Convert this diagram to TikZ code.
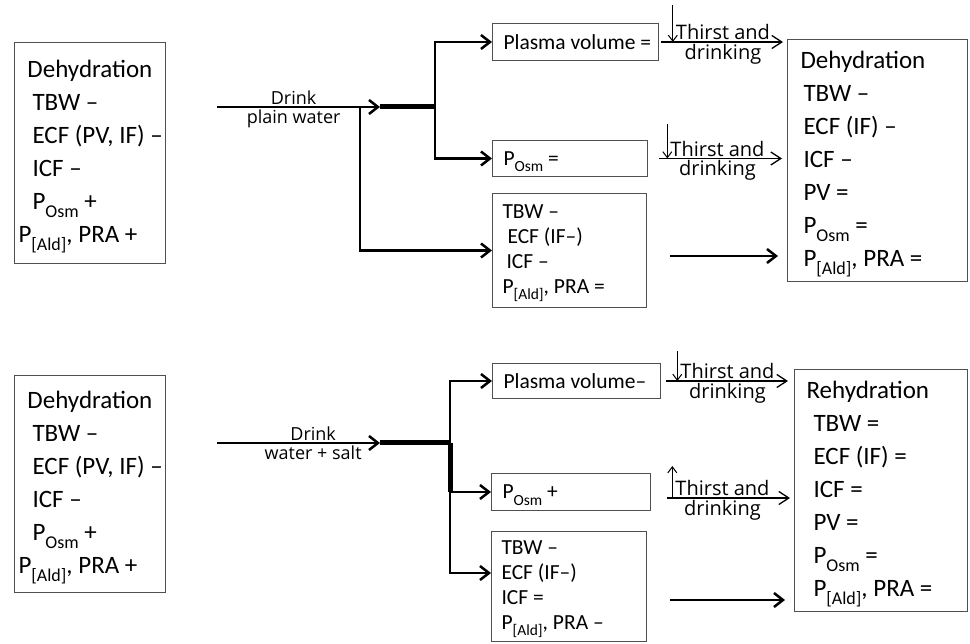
\documentclass[tikz,border=0pt]{standalone}
\usepackage{fontspec}
\setmainfont{Carlito}
\newfontfamily\labfont{Open Sans}
\usetikzlibrary{arrows.meta}

\definecolor{boxgray}{HTML}{505050}
\newcommand{\lowsub}[1]{\raisebox{-0.3em}[0pt][0pt]{\scalebox{0.72}{#1}}}
\newcommand{\nobrk}[1]{\makebox[0pt][l]{#1}}

\tikzset{
  bigbox/.style={draw=boxgray, line width=1pt, anchor=north west, align=flush left,
    inner ysep=0pt, font=\fontsize{25}{33}\selectfont},
  smallbox/.style={draw=boxgray, line width=1pt, anchor=north west, align=flush left,
    inner ysep=0pt, font=\fontsize{21.5}{25}\selectfont},
  labtxt/.style={font=\labfont\fontsize{18}{20}\selectfont, inner sep=1.5pt},
  thtxt/.style={font=\labfont\fontsize{20}{22}\selectfont, inner sep=1.5pt},
  flow/.style={line width=2.5pt, -{Straight Barb[length=9pt,width=14pt]}},
  trunk/.style={line width=5pt},
  thirst/.style={line width=1.3pt, -{Straight Barb[length=10pt,width=13pt]}},
  tick/.style={line width=1pt, -{Straight Barb[length=6pt,width=9pt]}}
}

\begin{document}
\begin{tikzpicture}[x=1pt,y=-1pt]
\useasboundingbox (0,0) rectangle (970,644);

% top row: plain water
\node[bigbox, text width=143pt, inner xsep=4pt, minimum height=221pt] (dh0) at (14,42)
  {\hspace*{9pt}Dehydration\\ \hspace*{14pt}TBW –\\ \hspace*{14pt}\nobrk{ECF (PV, IF) –}\\ \hspace*{14pt}ICF –\\
   \hspace*{14pt}P\lowsub{Osm} +\\ P\lowsub{[Ald]}, PRA +};
\node[smallbox, text width=144pt, inner xsep=11pt, minimum height=37pt] (pv1) at (492,23) {\nobrk{Plasma volume =}};
\node[smallbox, text width=133pt, inner xsep=11pt, minimum height=36pt] (posm1) at (492,140) {P\lowsub{Osm} =};
\node[smallbox, text width=134pt, inner xsep=10pt, minimum height=114pt] (tbw1) at (492,193)
  {TBW –\\ \hspace*{5pt}ECF (IF–)\\ \hspace*{4pt}ICF –\\ P\lowsub{[Ald]}, PRA =};
\node[bigbox, text width=154pt, inner xsep=13pt, minimum height=242pt] (dh1) at (787,39)
  {Dehydration\\ \hspace*{3pt}TBW –\\ \hspace*{3pt}ECF (IF) –\\ \hspace*{3pt}ICF –\\
   \hspace*{3pt}PV =\\ \hspace*{3pt}P\lowsub{Osm} =\\ \hspace*{3pt}P\lowsub{[Ald]}, PRA =};

\coordinate (d0s) at (217,107);
\coordinate (j0) at (380,107);
\coordinate (b0) at (435,107);
\coordinate (s0) at (360,107);
\draw[flow] (d0s) -- node[labtxt, above, pos=0.47] (dr0) {Drink}
  node[labtxt, below, pos=0.47] (pw0) {plain water} (j0);
\draw[trunk] (j0) -- (b0);
\draw[flow] (b0) |- (pv1.west);
\draw[flow] (b0) |- (posm1.west);
\draw[flow] (s0) |- (tbw1.west);

\draw[thirst, shorten <=2pt, shorten >=4pt] (pv1.east) --
  node[thtxt, above] (t1) {Thirst and} node[thtxt, below] (k1) {drinking} (pv1.east -| dh1.west);
\draw[tick] ([xshift=-1pt]t1.south west) ++(0,-37) -- ([xshift=-1pt]t1.south west);
\draw[thirst, shorten <=11pt, shorten >=5pt] (posm1.east) --
  node[thtxt, above] (t2) {Thirst and} node[thtxt, below] (k2) {drinking} (posm1.east -| dh1.west);
\draw[tick] ([xshift=-1pt]t2.south west) ++(0,-34) -- ([xshift=-1pt]t2.south west);

\coordinate (l0) at (670,256);
\draw[flow, shorten >=9pt] (l0) -- (l0 -| dh1.west);

% bottom row: water + salt
\node[bigbox, text width=143pt, inner xsep=4pt, minimum height=217pt] (dh2) at (14,375)
  {\hspace*{9pt}Dehydration\\ \hspace*{14pt}TBW –\\ \hspace*{14pt}\nobrk{ECF (PV, IF) –}\\ \hspace*{14pt}ICF –\\
   \hspace*{14pt}P\lowsub{Osm} +\\ P\lowsub{[Ald]}, PRA +};
\node[smallbox, text width=146pt, inner xsep=11pt, minimum height=35pt] (pv2) at (492,363) {\nobrk{Plasma volume–}};
\node[smallbox, text width=137pt, inner xsep=11pt, minimum height=37pt] (posm2) at (491,473) {P\lowsub{Osm} +};
\node[smallbox, text width=135pt, inner xsep=10pt, minimum height=110pt] (tbw2) at (491,531)
  {TBW –\\ ECF (IF–)\\ ICF =\\ P\lowsub{[Ald]}, PRA –};
\node[bigbox, text width=149pt, inner xsep=12pt, minimum height=242pt] (rh) at (794,369)
  {Rehydration\\ \hspace*{7pt}TBW =\\ \hspace*{7pt}ECF (IF) =\\ \hspace*{7pt}ICF =\\
   \hspace*{7pt}PV =\\ \hspace*{7pt}P\lowsub{Osm} =\\ \hspace*{7pt}P\lowsub{[Ald]}, PRA =};

\coordinate (d1s) at (217,443);
\coordinate (j1) at (380,443);
\coordinate (b1) at (450,443);
\coordinate (c1) at (450,573);
\draw[flow] (d1s) -- node[labtxt, above, pos=0.59] (dr1) {Drink}
  node[labtxt, below, pos=0.59] (ws1) {water + salt} (j1);
\draw[trunk] (j1) -- (b1);
\draw[flow] (b1) |- (pv2.west);
\draw[trunk] (b1) -- (b1 |- posm2.west);
\draw[flow] (b1) |- (posm2.west);
\draw[flow] (b1) -- (c1) -- (c1 -| tbw2.west);

\draw[thirst, shorten <=5pt, shorten >=6pt] (pv2.east) --
  node[thtxt, above] (t3) {Thirst and} node[thtxt, below] (k3) {drinking} (pv2.east -| rh.west);
\draw[tick] ([xshift=-1pt]t3.south west) ++(0,-30) -- ([xshift=-1pt]t3.south west);
\draw[thirst, shorten <=16pt, shorten >=4pt] ([yshift=-6pt]posm2.east) --
  node[thtxt, above] (t4) {Thirst and} node[thtxt, below] (k4) {drinking} ([yshift=-6pt]posm2.east -| rh.west);
\draw[tick] ([xshift=-1pt]t4.south west) -- ++(0,-32);

\coordinate (l1) at (670,600);
\draw[flow, shorten >=9pt] (l1) -- (l1 -| rh.west);
\end{tikzpicture}
\end{document}
